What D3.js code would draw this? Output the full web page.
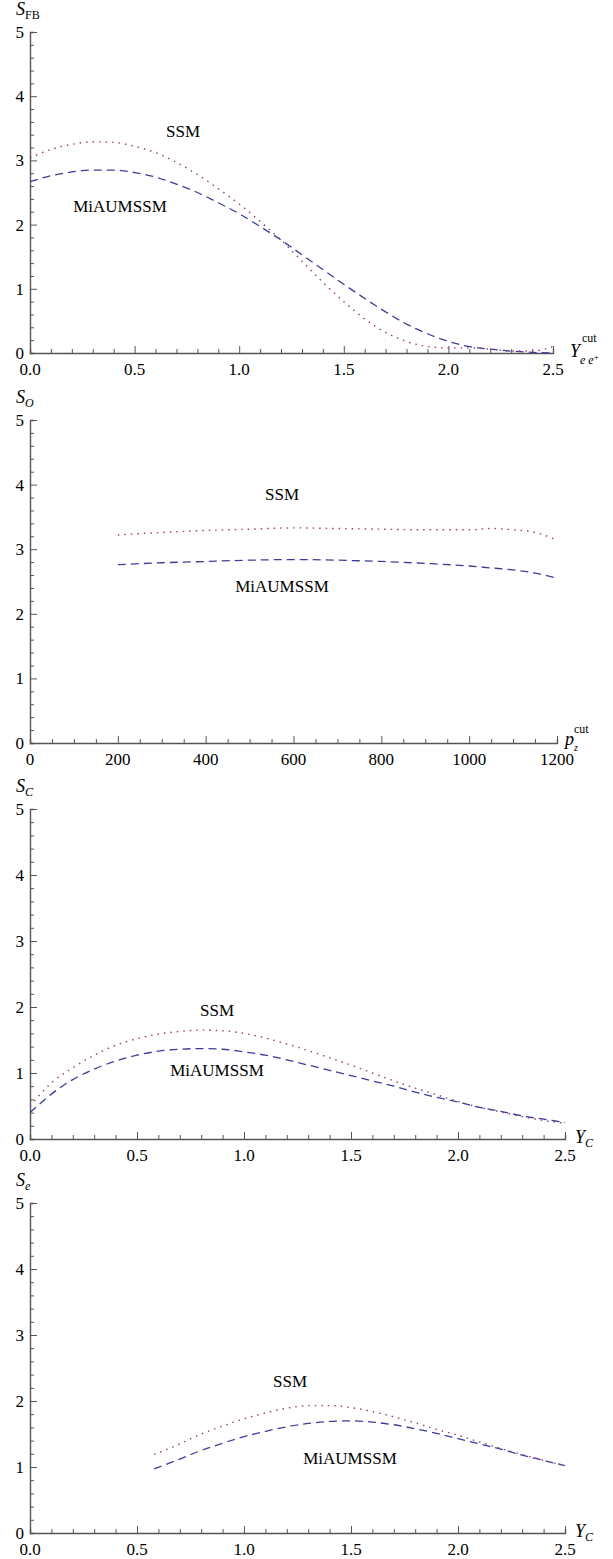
<!DOCTYPE html>
<html>
<head>
<meta charset="utf-8">
<script src="https://cdn.jsdelivr.net/npm/d3@7"></script>
<style>
  body { margin: 0; background: #fff; }
  svg { display: block; }
</style>
</head>
<body>
<div id="chart"></div>
<script>
// panel 1: S_FB vs Y_ee+ cut
var yeeX = [0.0, 0.1, 0.2, 0.3, 0.4, 0.5, 0.6, 0.7, 0.8, 0.9, 1.0, 1.1, 1.2,
    1.3, 1.4, 1.5, 1.6, 1.7, 1.8, 1.9, 2.0, 2.1, 2.2, 2.3, 2.4, 2.5];
var fbSSM = [3.04, 3.17, 3.25, 3.29, 3.28, 3.22, 3.12, 2.97, 2.78, 2.56, 2.32, 2.05, 1.76,
    1.43, 1.1, 0.8, 0.53, 0.32, 0.18, 0.1, 0.08, 0.08, 0.06, 0.03, 0.03, 0.1];
var fbMiA = [2.67, 2.76, 2.82, 2.85, 2.85, 2.81, 2.74, 2.63, 2.5, 2.34, 2.17, 1.97, 1.76,
    1.53, 1.3, 1.07, 0.85, 0.64, 0.45, 0.3, 0.18, 0.1, 0.06, 0.03, 0.01, 0.0];

// panel 2: S_O vs pz cut
var pzX = [200, 300, 400, 500, 600, 700, 800, 900, 1000, 1050, 1100, 1150, 1200];
var oSSM = [3.22, 3.26, 3.29, 3.31, 3.33, 3.32, 3.31, 3.3, 3.3, 3.32, 3.3, 3.26, 3.14];
var oMiA = [2.76, 2.79, 2.81, 2.83, 2.84, 2.83, 2.81, 2.78, 2.74, 2.71, 2.68, 2.63, 2.55];

// panel 3: S_C vs Y_C
var ycX = [0.0, 0.1, 0.2, 0.3, 0.4, 0.5, 0.6, 0.7, 0.8, 0.9, 1.0, 1.1, 1.2,
    1.3, 1.4, 1.5, 1.6, 1.7, 1.8, 1.9, 2.0, 2.1, 2.2, 2.3, 2.4, 2.5];
var cSSM = [0.5, 0.85, 1.08, 1.27, 1.42, 1.52, 1.59, 1.63, 1.65, 1.64, 1.6, 1.53, 1.44,
    1.34, 1.23, 1.12, 1.0, 0.88, 0.77, 0.67, 0.57, 0.48, 0.41, 0.34, 0.28, 0.24];
var cMiA = [0.4, 0.68, 0.9, 1.06, 1.18, 1.27, 1.33, 1.36, 1.37, 1.36, 1.32, 1.27, 1.2,
    1.12, 1.04, 0.96, 0.88, 0.8, 0.71, 0.63, 0.56, 0.48, 0.42, 0.35, 0.3, 0.25];

// panel 4: S_e vs Y_C
var yeX = [0.58, 0.7, 0.8, 0.9, 1.0, 1.1, 1.2, 1.3, 1.4, 1.5, 1.6, 1.7, 1.8,
    1.9, 2.0, 2.1, 2.2, 2.3, 2.4, 2.5];
var eSSM = [1.19, 1.35, 1.5, 1.62, 1.73, 1.82, 1.89, 1.93, 1.93, 1.9, 1.84, 1.76, 1.67,
    1.57, 1.48, 1.38, 1.28, 1.19, 1.1, 1.02];
var eMiA = [0.97, 1.12, 1.25, 1.36, 1.46, 1.54, 1.61, 1.66, 1.69, 1.7, 1.68, 1.64, 1.58,
    1.51, 1.43, 1.35, 1.27, 1.18, 1.1, 1.02];

var yTicks = [0, 1, 2, 3, 4, 5];
var yTicksTwo = [0, 200, 400, 600, 800, 1000, 1200];
var yTicksHalf = [0.0, 0.5, 1.0, 1.5, 2.0, 2.5];

var colSSM = '#993d7a',
    colMiA = '#3d3d99',
    axisCol = '#555',
    serif = "'Liberation Serif', 'Times New Roman', Tinos, 'DejaVu Serif', serif";

var svg = d3.select('#chart').append('svg')
    .attr('width', 613)
    .attr('height', 1559)
    .attr('font-family', serif)

var panels = [
    { top: 32, bottom: 353, left: 30, right: 553, xmax: 2.5, xt: yTicksHalf, minor: 0.1, fmt: d3.format('.1f'),
      xs: yeeX, a: fbSSM, b: fbMiA, ylab: ['S', 'FB', false], ssm: [183, 137], mia: [120, 212], xlab: 'yee' },
    { top: 420, bottom: 743, left: 30, right: 557, xmax: 1200, xt: yTicksTwo, minor: 50, fmt: d3.format('d'),
      xs: pzX, a: oSSM, b: oMiA, ylab: ['S', 'O', true], ssm: [282, 500], mia: [282, 592], xlab: 'pz' },
    { top: 809, bottom: 1139, left: 30, right: 565, xmax: 2.5, xt: yTicksHalf, minor: 0.1, fmt: d3.format('.1f'),
      xs: ycX, a: cSSM, b: cMiA, ylab: ['S', 'C', true], ssm: [217, 1016], mia: [217, 1076], xlab: 'yc' },
    { top: 1203, bottom: 1533, left: 30, right: 565, xmax: 2.5, xt: yTicksHalf, minor: 0.1, fmt: d3.format('.1f'),
      xs: yeX, a: eSSM, b: eMiA, ylab: ['S', 'e', true], ssm: [290, 1387], mia: [350, 1464], xlab: 'yc' }
];

function txt(g, x, y, size, italic) {
    return g.append('text')
        .attr('x', x)
        .attr('y', y)
        .style('font-family', serif)
        .style('font-size', size + 'px')
        .style('font-style', italic ? 'italic' : 'normal')
        .attr('fill', '#000');
}

panels.forEach(function (p) {
    var x = d3.scaleLinear().domain([0, p.xmax]).range([p.left, p.right]);
    var y = d3.scaleLinear().domain([0, 5]).range([p.bottom, p.top]);
    var g = svg.append('g');

    // minor + major ticks
    var xMinor = d3.range(0, p.xmax + p.minor / 2, p.minor);
    var yMinor = d3.range(0, 5.1, 0.2);

    var xAxis = d3.axisTop(x).tickValues(xMinor).tickSize(4).tickFormat('');
    var gx = g.append('g').attr('transform', 'translate(0,' + p.bottom + ')').call(xAxis);
    gx.selectAll('line').filter(function (d) {
        return p.xt.some(function (t) { return Math.abs(t - d) < 1e-6; });
    }).attr('y2', -7);

    var yAxis = d3.axisRight(y).tickValues(yMinor).tickSize(4).tickFormat('');
    var gy = g.append('g').attr('transform', 'translate(' + p.left + ',0)').call(yAxis);
    gy.selectAll('line').filter(function (d) {
        return Math.abs(d - Math.round(d)) < 1e-6;
    }).attr('x2', 7);

    g.selectAll('.domain').attr('stroke', axisCol).attr('stroke-width', 1.4);
    g.selectAll('.tick line').attr('stroke', axisCol).attr('stroke-width', 1);

    // tick labels
    p.xt.forEach(function (d) {
        txt(g, x(d), p.bottom + 22, 17).attr('text-anchor', 'middle').text(p.fmt(d));
    });
    yTicks.forEach(function (d) {
        txt(g, 24, y(d) + 6, 17).attr('text-anchor', 'end').text(d);
    });

    // y axis title
    var yt = txt(g, 16, p.top - 17, 18, true);
    yt.append('tspan').text(p.ylab[0]);
    yt.append('tspan').attr('dy', 4).style('font-size', '12px')
        .style('font-style', p.ylab[2] ? 'italic' : 'normal').text(p.ylab[1]);

    // x axis title
    var xr = p.right + 14;
    if (p.xlab == 'yee') {
        txt(g, xr + 3, p.bottom + 4, 18, true).text('Y');
        txt(g, xr + 15, p.bottom - 11, 12).text('cut');
        var s = txt(g, xr + 13, p.bottom + 11, 12, true);
        s.append('tspan').text('e e');
        s.append('tspan').attr('dy', -4).style('font-style', 'normal').style('font-size', '9px').text('+');
    } else if (p.xlab == 'pz') {
        txt(g, xr - 6, p.bottom + 2, 18, true).text('p');
        txt(g, xr + 3, p.bottom - 10, 12).text('cut');
        txt(g, xr + 3, p.bottom + 8, 10, true).text('z');
    } else {
        var t = txt(g, xr - 4, p.bottom + 4, 18, true);
        t.append('tspan').text('Y');
        t.append('tspan').attr('dy', 4).style('font-size', '12px').text('C');
    }

    // curves
    var line = d3.line()
        .x(function (d) { return x(d[0]); })
        .y(function (d) { return y(d[1]); })
        .curve(d3.curveMonotoneX);

    g.append('path')
        .datum(d3.zip(p.xs, p.b))
        .attr('d', line)
        .attr('fill', 'none')
        .attr('stroke', colMiA)
        .attr('stroke-width', 1.3)
        .attr('stroke-dasharray', '8,5');

    g.append('path')
        .datum(d3.zip(p.xs, p.a))
        .attr('d', line)
        .attr('fill', 'none')
        .attr('stroke', colSSM)
        .attr('stroke-width', 1.4)
        .attr('stroke-dasharray', '1.5,5');

    // series labels
    txt(g, p.ssm[0], p.ssm[1], 17).attr('text-anchor', 'middle').text('SSM');
    txt(g, p.mia[0], p.mia[1], 17).attr('text-anchor', 'middle').text('MiAUMSSM');
});
</script>
</body>
</html>
